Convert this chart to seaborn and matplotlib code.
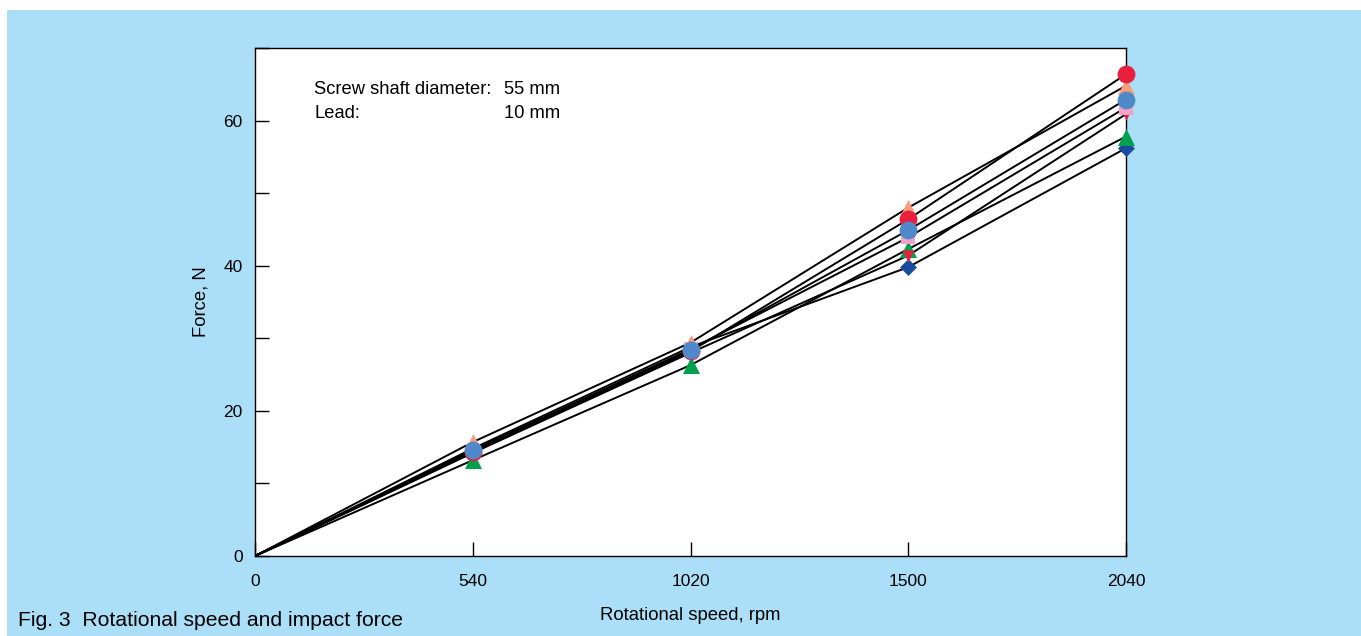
import matplotlib
matplotlib.use("Agg")
import matplotlib.pyplot as plt
import seaborn as sns
import pandas as pd
from matplotlib.patches import Rectangle

speeds = ["0", "540", "1020", "1500", "2040"]
red_circle = [0, 14.3, 28.2, 46.4, 66.4]
salmon_tri = [0, 15.7, 29.4, 48.0, 64.8]
blue_circle = [0, 14.6, 28.4, 44.9, 62.9]
pink_square = [0, 14.5, 28.5, 43.9, 61.8]
red_down = [0, 14.2, 28.0, 41.4, 60.9]
green_tri = [0, 13.2, 26.3, 42.3, 57.8]
navy_diamond = [0, 14.8, 28.8, 39.8, 56.2]

series = [
    ("navy_diamond", navy_diamond, "D", "#1a4c9e", 75),
    ("green_tri", green_tri, "^", "#00a04e", 150),
    ("red_down", red_down, "v", "#e81f3d", 75),
    ("pink_square", pink_square, "s", "#f2a2c6", 105),
    ("salmon_tri", salmon_tri, "^", "#f79c7c", 150),
    ("red_circle", red_circle, "o", "#e81f3d", 165),
    ("blue_circle", blue_circle, "o", "#5089c9", 165),
]

rows = []
for name, vals, *_ in series:
    for i, v in enumerate(vals):
        rows.append({"series": name, "pos": i, "force": v})
df = pd.DataFrame(rows)

sns.set_style("white")
plt.rcParams["font.family"] = ["Liberation Sans", "DejaVu Sans"]
plt.rcParams["text.color"] = "black"
plt.rcParams["axes.labelcolor"] = "black"
plt.rcParams["xtick.color"] = "black"
plt.rcParams["ytick.color"] = "black"

fig = plt.figure(figsize=(13.61, 6.36), dpi=100)
fig.patch.set_facecolor("white")
fig.patches.append(Rectangle((7 / 1361, 0), 1 - 7 / 1361, 1 - 10 / 636,
                             transform=fig.transFigure, facecolor="#abdff8",
                             edgecolor="none", zorder=-10))
ax = fig.add_axes([255 / 1361, 1 - 556 / 636, (1126 - 255) / 1361, (556 - 48) / 636])
ax.set_facecolor("white")

sns.lineplot(data=df, x="pos", y="force", units="series", estimator=None,
             color="black", lw=1.4, ax=ax, legend=False, zorder=2)

for k, (name, vals, m, c, s) in enumerate(series):
    sub = df[(df.series == name) & (df.pos > 0)]
    sns.scatterplot(data=sub, x="pos", y="force", marker=m, color=c, s=s,
                    linewidth=0, ax=ax, legend=False, zorder=3 + k)
for coll in ax.collections:
    coll.set_clip_on(False)

ax.set_xlim(0, 4)
ax.set_ylim(0, 70)
ax.set_xticks(range(len(speeds)))
ax.set_xticklabels(speeds)
ax.set_yticks(range(0, 71, 10))
ax.set_yticklabels(["0", "", "20", "", "40", "", "60", ""])
ax.tick_params(direction="in", length=10, width=1, color="black",
               labelcolor="black", labelsize=12.5, pad=9,
               bottom=True, left=True, top=False, right=False)
ax.tick_params(axis="x", pad=13)
for sp in ax.spines.values():
    sp.set_color("black")
    sp.set_linewidth(1)

ax.set_xlabel("Rotational speed, rpm", fontsize=13.3, labelpad=13)
ax.set_ylabel("Force, N", fontsize=13.3, labelpad=10)

fs = 13.2
ax.text(314 / 1361, 1 - 90 / 636, "Screw shaft diameter:", transform=fig.transFigure,
        fontsize=fs, va="center", ha="left")
ax.text(560 / 1361, 1 - 90 / 636, "55 mm", transform=fig.transFigure,
        fontsize=fs, va="center", ha="right")
ax.text(314 / 1361, 1 - 113 / 636, "Lead:", transform=fig.transFigure,
        fontsize=fs, va="center", ha="left")
ax.text(560 / 1361, 1 - 113 / 636, "10 mm", transform=fig.transFigure,
        fontsize=fs, va="center", ha="right")

fig.text(18 / 1361, 1 - 620 / 636, "Fig. 3  Rotational speed and impact force",
         fontsize=15.2, va="center", ha="left")

fig.savefig("out.png", dpi=100, facecolor=fig.get_facecolor())
